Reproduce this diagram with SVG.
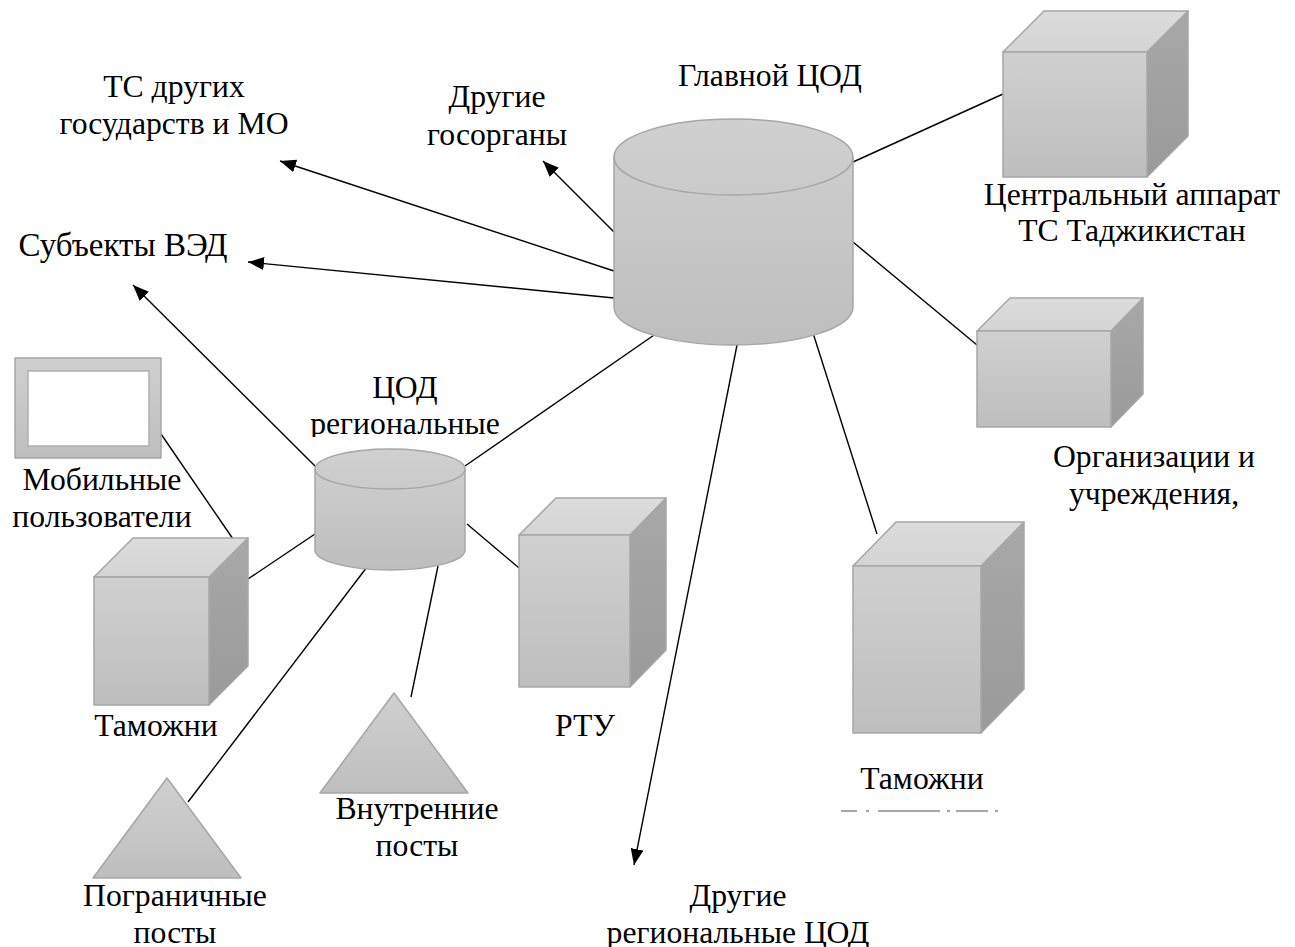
<svg xmlns="http://www.w3.org/2000/svg" width="1295" height="947" viewBox="0 0 1295 947">
<style>
text{font-family:"Liberation Serif","Times New Roman",serif;font-size:31.7px;fill:#000;text-anchor:middle}
.s{stroke:#a6a6a6;stroke-width:1.5;stroke-linejoin:round}
.f{fill:url(#g)}
.t{fill:url(#gt)}
.r{fill:url(#gr)}
#connectors line{stroke:#000;stroke-width:1.4}
.a{marker-end:url(#arrow)}
</style>
<defs>
<linearGradient id="g" x1="0" y1="0" x2="0" y2="1"><stop offset="0" stop-color="#d0d0d0"/><stop offset="1" stop-color="#bebebe"/></linearGradient>
<linearGradient id="gt" x1="0" y1="0" x2="0" y2="1"><stop offset="0" stop-color="#dcdcdc"/><stop offset="1" stop-color="#d4d4d4"/></linearGradient>
<linearGradient id="gr" x1="0" y1="0" x2="0" y2="1"><stop offset="0" stop-color="#a8a8a8"/><stop offset="1" stop-color="#9a9a9a"/></linearGradient>
<marker id="arrow" markerUnits="userSpaceOnUse" markerWidth="18" markerHeight="14" refX="16" refY="6.5" orient="auto"><path d="M0 0L16 6.5L0 13Z" fill="#000"/></marker>
</defs>
<g id="connectors">
<line x1="853" y1="162" x2="1003" y2="94"/>
<line x1="853" y1="242" x2="977" y2="345"/>
<line x1="813" y1="333" x2="877" y2="534"/>
<line class="a" x1="737" y1="345" x2="634" y2="865"/>
<line class="a" x1="614" y1="232" x2="543" y2="161"/>
<line class="a" x1="614" y1="271" x2="280" y2="161"/>
<line class="a" x1="614" y1="298" x2="248" y2="262"/>
<line x1="657" y1="333" x2="465" y2="466"/>
<line class="a" x1="315" y1="466" x2="133" y2="285"/>
<line x1="161" y1="434" x2="233" y2="539"/>
<line x1="315" y1="534" x2="248" y2="579"/>
<line x1="467" y1="524" x2="519" y2="568"/>
<line x1="367" y1="567" x2="188" y2="802"/>
<line x1="438" y1="566" x2="411" y2="697"/>
</g>
<g id="main-dc">
<path class="s f" d="M614 157A119.500 38 0 0 1 853 157V307C853 328 799.500 345 733.500 345S614 328 614 307Z"/>
<path class="s" fill="none" d="M614 157A119.500 38 0 0 0 853 157"/>
<text x="770" y="86">Главной ЦОД</text>
</g>
<g id="central-office">
<path class="s r" d="M1147 52L1188 11V136L1147 177Z"/>
<path class="s t" d="M1003 52L1044 11H1188L1147 52Z"/>
<rect class="s f" x="1003" y="52" width="144" height="125"/>
<text x="1132" y="205">Центральный аппарат</text>
<text x="1132" y="241">ТС Таджикистан</text>
</g>
<g id="organizations">
<path class="s r" d="M1111 331L1143 298V394L1111 427Z"/>
<path class="s t" d="M977 331L1010 298H1143L1111 331Z"/>
<rect class="s f" x="977" y="331" width="134" height="96"/>
<text x="1154" y="467">Организации и</text>
<text x="1154" y="504">учреждения,</text>
</g>
<g id="customs-right">
<path class="s r" d="M981 566L1024 522V689L981 733Z"/>
<path class="s t" d="M853 566L896 522H1024L981 566Z"/>
<rect class="s f" x="853" y="566" width="128" height="167"/>
<text x="922" y="789">Таможни</text>
<path d="M841 811H857M866 811H869M878 811H940M947 811H950M956 811H988M995 811H998" stroke="#8a8a8a" stroke-width="1.500" fill="none"/>
</g>
<g id="rtu">
<path class="s r" d="M630 535L666 498V650L630 687Z"/>
<path class="s t" d="M519 535L556 498H666L630 535Z"/>
<rect class="s f" x="519" y="535" width="111" height="152"/>
<text x="585" y="736">РТУ</text>
</g>
<g id="customs-left">
<path class="s r" d="M209 577L248 538V666L209 705Z"/>
<path class="s t" d="M94 577L133 538H248L209 577Z"/>
<rect class="s f" x="94" y="577" width="115" height="128"/>
<text x="156" y="736">Таможни</text>
</g>
<g id="regional-dc">
<path class="s f" d="M315 469A75 20 0 0 1 465 469V550C465 561 431.500 570 390 570S315 561 315 550Z"/>
<path class="s" fill="none" d="M315 469A75 20 0 0 0 465 469"/>
<text x="405" y="398">ЦОД</text>
<svg x="290" y="405" width="230" height="32" viewBox="290 405 230 32"><text x="405" y="434">региональные</text></svg>
</g>
<g id="mobile-users">
<rect class="s f" x="15" y="358" width="146" height="100"/>
<rect x="28" y="371" width="121" height="75" fill="#fff" stroke="#b0b0b0" stroke-width="1.500"/>
<text x="102" y="490">Мобильные</text>
<text x="102" y="527">пользователи</text>
</g>
<g id="inner-posts">
<path class="s f" d="M394 693L468 793H320Z"/>
<text x="417" y="819">Внутренние</text>
<text x="417" y="856">посты</text>
</g>
<g id="border-posts">
<path class="s f" d="M167 778L241 878H93Z"/>
<text x="175" y="906">Пограничные</text>
<text x="175" y="943">посты</text>
</g>
<g id="labels">
<text x="174" y="97">ТС других</text>
<text x="174" y="134">государств и МО</text>
<text x="497" y="107">Другие</text>
<text x="497" y="145">госорганы</text>
<text x="123" y="256" style="font-size:33px">Субъекты ВЭД</text>
<text x="738" y="906">Другие</text>
<text x="738" y="943">региональные ЦОД</text>
</g>
</svg>
